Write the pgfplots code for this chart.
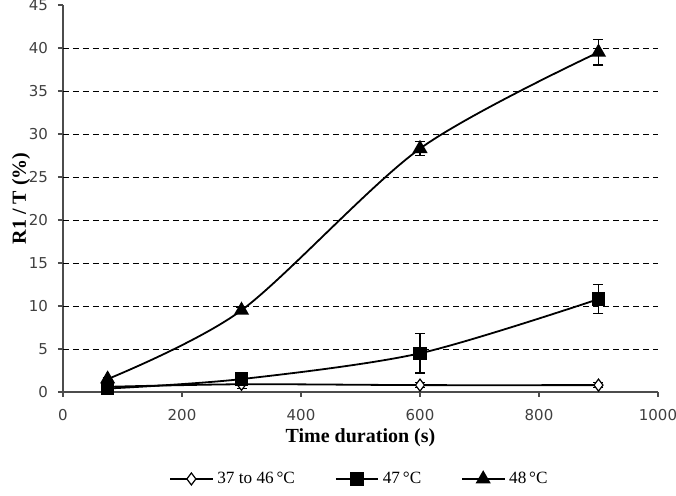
\documentclass[border=0pt]{standalone}
\usepackage{fontspec}
\setmainfont{Liberation Serif}
\newfontfamily\tickfont{DejaVu Sans}
\usepackage{pgfplots}
\pgfplotsset{compat=1.18}

\begin{document}
\begin{tikzpicture}
\begin{axis}[
  scale only axis, width=297.5pt, height=193.5pt,
  xmin=0, xmax=1000, ymin=0, ymax=45,
  xtick={0,200,...,1000}, ytick={0,5,...,45},
  axis x line*=bottom, axis y line*=left,
  axis line style={-, black!70, line width=0.6pt},
  tick align=outside, major tick length=2.5pt,
  tick style={black!70, line width=0.6pt},
  extra y ticks={5,10,...,40}, extra y tick labels={},
  extra y tick style={grid=major, major tick length=0pt},
  grid style={densely dashed, black, line width=0.45pt},
  /pgf/number format/assume math mode=true,
  /pgf/number format/1000 sep={},
  tick label style={font=\tickfont\fontsize{7.5}{8}\selectfont, black!75},
  xticklabel style={yshift=-2.5pt}, yticklabel style={xshift=-1.5pt},
  xlabel={\textbf{Time duration (s)}}, ylabel={\textbf{R1 / T (\%)}},
  label style={font=\fontsize{10}{12}\selectfont},
  xlabel style={at={(axis description cs:0.5,0)}, anchor=center, yshift=-23pt},
  ylabel style={at={(axis description cs:0,0.5)}, anchor=center, yshift=21pt},
  legend columns=3,
  legend style={draw=none, at={(0.5,0)}, anchor=center, yshift=-43.5pt,
    font=\fontsize{8.6}{10}\selectfont,
    /tikz/every even column/.append style={column sep=18pt}},
  legend image code/.code={
    \draw[#1, mark repeat=2, mark phase=2] plot coordinates {(0cm,0cm) (0.37cm,0cm) (0.74cm,0cm)};},
  every axis plot/.append style={black, line width=0.9pt, smooth},
  error bars/error bar style={black, line width=0.75pt},
  error bars/error mark options={rotate=90, mark size=2.5pt, line width=0.75pt},
]
\addplot[mark=diamond*, mark options={fill=white, mark size=3pt, line width=0.6pt},
  error bars/.cd, y dir=both, y explicit]
  coordinates {(75,0.6) +- (0,0.1) (300,0.9) +- (0,0.5) (600,0.8) +- (0,0.3) (900,0.8) +- (0,0.3)};
\addlegendentry{37 to 46\,°C}
\addplot[mark=square*, mark options={mark size=2.9pt},
  error bars/.cd, y dir=both, y explicit]
  coordinates {(75,0.4) +- (0,0.1) (300,1.5) +- (0,0.3) (600,4.5) +- (0,2.3) (900,10.8) +- (0,1.7)};
\addlegendentry{47\,°C}
\addplot[mark=triangle*, mark options={mark size=3.5pt},
  error bars/.cd, y dir=both, y explicit]
  coordinates {(75,1.5) +- (0,0.2) (300,9.5) +- (0,0.3) (600,28.3) +- (0,0.8) (900,39.5) +- (0,1.5)};
\addlegendentry{48\,°C}
\coordinate (bl) at (axis cs:0,0);
\coordinate (tr) at (axis cs:1000,45);
\end{axis}
\pgfresetboundingbox
\path[use as bounding box] ([xshift=-31.5pt,yshift=-52pt]bl) rectangle ([xshift=9pt,yshift=2.5pt]tr);
\end{tikzpicture}
\end{document}
